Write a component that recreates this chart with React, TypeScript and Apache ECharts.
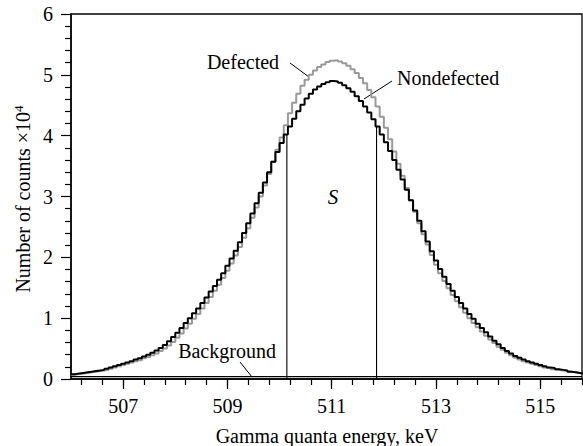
import React, { useEffect, useRef } from "react";
import * as echarts from "echarts";

// Histogram bins: left edge of first bin and bin width (keV)
const BIN_START = 506.0;
const BIN_WIDTH = 0.08;

// Nondefected spectrum (black), counts ×10^4 per bin
const nondefected = [
  0.08, 0.09, 0.10, 0.11, 0.12, 0.13, 0.14, 0.15, 0.17, 0.19,
  0.21, 0.23, 0.25, 0.27, 0.29, 0.32, 0.34, 0.37, 0.40, 0.43,
  0.47, 0.51, 0.56, 0.62, 0.69, 0.76, 0.84, 0.92, 1.00, 1.08,
  1.16, 1.25, 1.34, 1.44, 1.53, 1.63, 1.74, 1.86, 1.98, 2.11,
  2.25, 2.40, 2.56, 2.72, 2.89, 3.06, 3.23, 3.40, 3.57, 3.73,
  3.88, 4.02, 4.15, 4.28, 4.40, 4.51, 4.61, 4.69, 4.76, 4.81,
  4.85, 4.88, 4.90, 4.89, 4.87, 4.83, 4.78, 4.72, 4.65, 4.57,
  4.48, 4.38, 4.27, 4.15, 4.02, 3.89, 3.75, 3.60, 3.44, 3.28,
  3.11, 2.94, 2.77, 2.60, 2.43, 2.26, 2.10, 1.95, 1.81, 1.68,
  1.56, 1.45, 1.35, 1.25, 1.16, 1.07, 0.99, 0.91, 0.84, 0.77,
  0.70, 0.63, 0.57, 0.51, 0.46, 0.42, 0.38, 0.35, 0.32, 0.29,
  0.27, 0.25, 0.23, 0.21, 0.19, 0.18, 0.16, 0.15, 0.14, 0.12,
  0.11, 0.10, 0.09,
];

// Defected spectrum (gray), counts ×10^4 per bin
const defected = [
  0.07, 0.08, 0.09, 0.10, 0.11, 0.12, 0.13, 0.14, 0.15, 0.17,
  0.19, 0.21, 0.23, 0.25, 0.27, 0.29, 0.31, 0.34, 0.36, 0.39,
  0.42, 0.46, 0.50, 0.55, 0.61, 0.68, 0.75, 0.83, 0.91, 0.99,
  1.07, 1.16, 1.25, 1.35, 1.45, 1.55, 1.66, 1.78, 1.90, 2.03,
  2.17, 2.32, 2.48, 2.65, 2.82, 3.00, 3.18, 3.37, 3.57, 3.77,
  3.97, 4.17, 4.37, 4.54, 4.69, 4.82, 4.92, 5.00, 5.07, 5.13,
  5.17, 5.21, 5.23, 5.24, 5.22, 5.19, 5.15, 5.09, 5.03, 4.95,
  4.86, 4.75, 4.63, 4.48, 4.31, 4.13, 3.94, 3.74, 3.54, 3.34,
  3.14, 2.94, 2.75, 2.56, 2.38, 2.21, 2.04, 1.88, 1.74, 1.61,
  1.49, 1.38, 1.28, 1.18, 1.09, 1.00, 0.92, 0.85, 0.78, 0.71,
  0.65, 0.59, 0.53, 0.48, 0.43, 0.39, 0.35, 0.32, 0.29, 0.27,
  0.25, 0.23, 0.21, 0.19, 0.18, 0.16, 0.15, 0.14, 0.13, 0.12,
  0.11, 0.10, 0.09,
];

const backgroundLevel = 0.04;
const windowEdges = [510.14, 511.86];

const X_MIN = 506;
const X_MAX = 515.8;
const xMajorTicks = [507, 509, 511, 513, 515];
const xMinorTicks = [
  506.2, 506.6, 507.0, 507.4, 507.8, 508.2, 508.6, 509.0, 509.4, 509.8,
  510.2, 510.6, 511.0, 511.4, 511.8, 512.2, 512.6, 513.0, 513.4, 513.8,
  514.2, 514.6, 515.0, 515.4, 515.8,
];

const FONT = '"Liberation Serif", "Times New Roman", serif';

function toSteps(values: number[]): number[][] {
  const pts = values.map((v, i) => [+(BIN_START + i * BIN_WIDTH).toFixed(3), v]);
  pts.push([+(BIN_START + values.length * BIN_WIDTH).toFixed(3), values[values.length - 1]]);
  return pts;
}

function valueAt(values: number[], x: number): number {
  return values[Math.floor((x - BIN_START) / BIN_WIDTH)];
}

export default function App() {
  const ref = useRef<HTMLDivElement>(null);

  useEffect(() => {
    document.body.style.margin = "0";
    if (!ref.current) return;
    const chart = echarts.init(ref.current, null, { renderer: "svg" });

    const commonX = {
      type: "value" as const,
      min: X_MIN,
      max: X_MAX,
      position: "bottom" as const,
      splitLine: { show: false },
    };

    const option: any = {
      animation: false,
      backgroundColor: "#fff",
      grid: {
        left: 71,
        right: 1,
        top: 14,
        bottom: 67,
        show: true,
        borderColor: "#000",
        borderWidth: 1.3,
        backgroundColor: "transparent",
      },
      xAxis: [
        {
          ...commonX,
          axisLine: { show: true, lineStyle: { color: "#000", width: 1.5 } },
          axisTick: {
            show: true,
            length: 10,
            customValues: xMajorTicks,
            lineStyle: { color: "#000", width: 1.2 },
          },
          axisLabel: {
            customValues: xMajorTicks,
            margin: 17,
            color: "#000",
            fontSize: 20,
            fontFamily: FONT,
          },
        },
        {
          ...commonX,
          axisLine: { show: false },
          axisTick: {
            show: true,
            length: 6,
            customValues: xMinorTicks,
            lineStyle: { color: "#000", width: 1.2 },
          },
          axisLabel: { show: false },
        },
      ],
      yAxis: {
        type: "value",
        min: 0,
        max: 6,
        interval: 1,
        splitLine: { show: false },
        axisLine: { show: true, lineStyle: { color: "#000", width: 1.5 } },
        axisTick: { show: true, length: 10, lineStyle: { color: "#000", width: 1.2 } },
        minorTick: { show: true, splitNumber: 5, length: 6, lineStyle: { color: "#000", width: 1.2 } },
        axisLabel: { margin: 18, color: "#000", fontSize: 20, fontFamily: FONT },
      },
      series: [
        {
          name: "Background",
          type: "line",
          xAxisIndex: 0,
          symbol: "none",
          data: [
            [X_MIN, backgroundLevel],
            [X_MAX, backgroundLevel],
          ],
          lineStyle: { color: "#000", width: 1.2 },
          z: 2,
        },
        {
          name: "Defected",
          type: "line",
          step: "end",
          symbol: "none",
          data: toSteps(defected),
          lineStyle: { color: "#9a9a9a", width: 2 },
          z: 3,
        },
        {
          name: "Nondefected",
          type: "line",
          step: "end",
          symbol: "none",
          data: toSteps(nondefected),
          lineStyle: { color: "#000", width: 2 },
          z: 4,
        },
        ...windowEdges.map((x) => ({
          type: "line",
          symbol: "none",
          data: [
            [x, 0],
            [x, valueAt(nondefected, x)],
          ],
          lineStyle: { color: "#000", width: 1.1 },
          z: 5,
        })),
      ],
      graphic: [
        {
          type: "text",
          x: 327,
          y: 436,
          style: {
            text: "Gamma quanta energy, keV",
            fontSize: 20,
            fontFamily: FONT,
            fill: "#000",
            align: "center",
            verticalAlign: "middle",
          },
        },
        {
          type: "text",
          x: 23,
          y: 199,
          rotation: Math.PI / 2,
          style: {
            text: "Number of counts ×10{sup|4}",
            fontSize: 20,
            fontFamily: FONT,
            fill: "#000",
            align: "center",
            verticalAlign: "middle",
            rich: {
              sup: { fontSize: 13, fontFamily: FONT, fill: "#000", verticalAlign: "top", lineHeight: 22, padding: [0, 0, 10, 0] },
            },
          },
        },
        {
          type: "text",
          x: 243,
          y: 62,
          style: { text: "Defected", fontSize: 20, fontFamily: FONT, fill: "#000", align: "center", verticalAlign: "middle" },
        },
        { type: "line", shape: { x1: 290, y1: 63, x2: 309, y2: 77 }, style: { stroke: "#000", lineWidth: 1 } },
        {
          type: "text",
          x: 397,
          y: 78,
          style: { text: "Nondefected", fontSize: 20, fontFamily: FONT, fill: "#000", align: "left", verticalAlign: "middle" },
        },
        { type: "line", shape: { x1: 392, y1: 81, x2: 364, y2: 99 }, style: { stroke: "#000", lineWidth: 1 } },
        {
          type: "text",
          x: 227,
          y: 351,
          style: { text: "Background", fontSize: 20, fontFamily: FONT, fill: "#000", align: "center", verticalAlign: "middle" },
        },
        { type: "line", shape: { x1: 240, y1: 362, x2: 252, y2: 377 }, style: { stroke: "#000", lineWidth: 1 } },
        {
          type: "text",
          x: 333,
          y: 197,
          style: { text: "S", fontSize: 21, fontStyle: "italic", fontFamily: FONT, fill: "#000", align: "center", verticalAlign: "middle" },
        },
      ],
    };

    chart.setOption(option);
    return () => chart.dispose();
  }, []);

  return (
    <div
      ref={ref}
      style={{ position: "fixed", left: 0, top: 0, width: 583, height: 446, background: "#fff" }}
    />
  );
}
